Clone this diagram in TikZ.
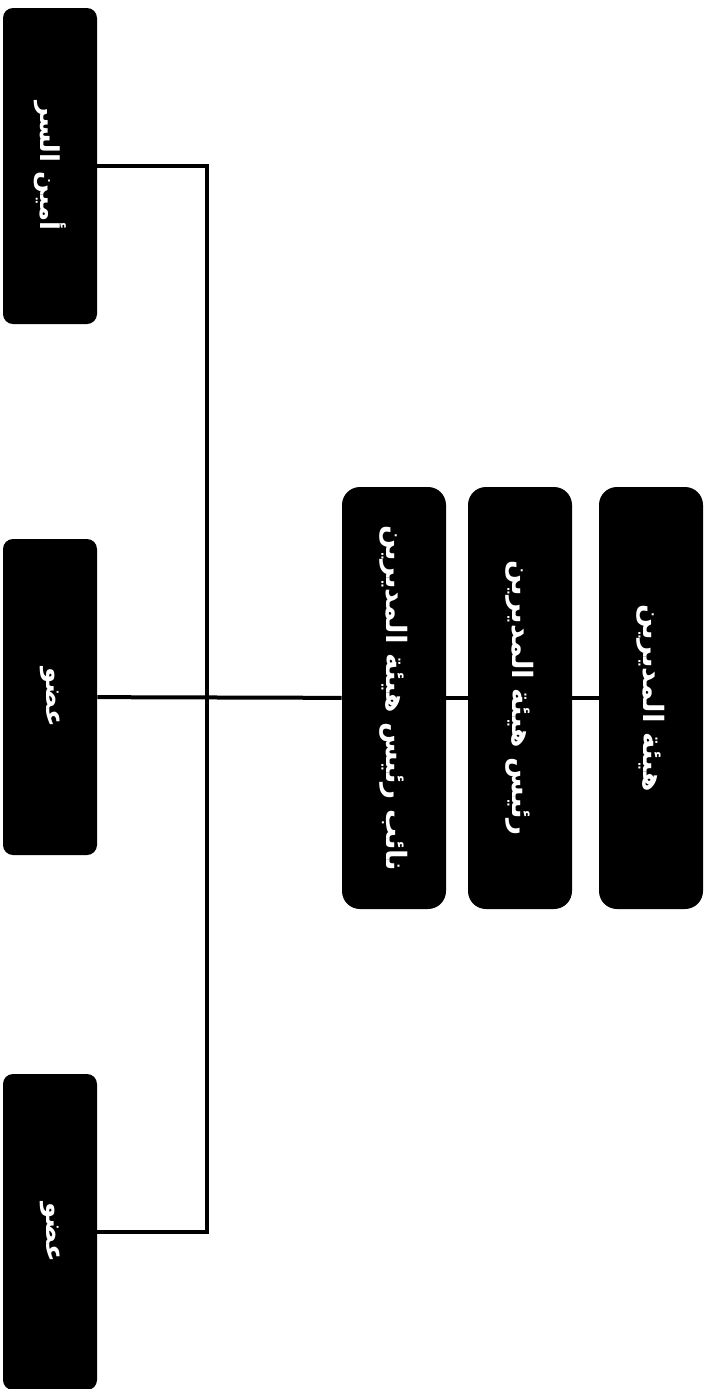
\documentclass[tikz,border=0pt]{standalone}
\usepackage{fontspec}
\newfontfamily\arabicfont[Script=Arabic]{DejaVu Sans}
\TeXXeTstate=1
\usetikzlibrary{positioning}
\tikzset{
every node/.style={rotate=-90,fill=black,text=white,font=\arabicfont\bfseries\fontsize{13}{15}\selectfont},
rankbox/.style= {rectangle,rounded corners=9pt,minimum width=211pt,minimum height=52pt,font=\arabicfont\bfseries\fontsize{14}{16}\selectfont},
memberbox/.style= {rectangle,rounded corners=5pt,minimum width=158pt,minimum height=47pt},
link/.style= {draw=black,line width=2pt}
}

\begin{document}
\begin{tikzpicture}[x=0.5pt,y=-0.5pt]
\useasboundingbox (0,0) rectangle (710,1389);

% the board and its two heads
\node[rankbox] (hb) at (651,698) {\beginR هيئة المديرين\endR};
\node[rankbox] (rb) at (520,698) {\beginR رئيس هيئة المديرين\endR};
\node[rankbox] (nb) at (394,698) {\beginR نائب رئيس هيئة المديرين\endR};

% the members on the left
\node[memberbox] (m1) at (50,166) {\beginR أمين السر\endR};
\node[memberbox] (m2) at (50,697) {\beginR عضو\endR};
\node[memberbox] (m3) at (50,1232) {\beginR عضو\endR};

\coordinate (hub) at (207,698);

% lines between the boxes
\draw[link] (hb) -- (rb);
\draw[link] (rb) -- (nb);
\draw[link] (nb) -- (m2);

\foreach \m in {m1,m3}
  \draw[link] (\m) -| (hub);

\end{tikzpicture}
\end{document}
